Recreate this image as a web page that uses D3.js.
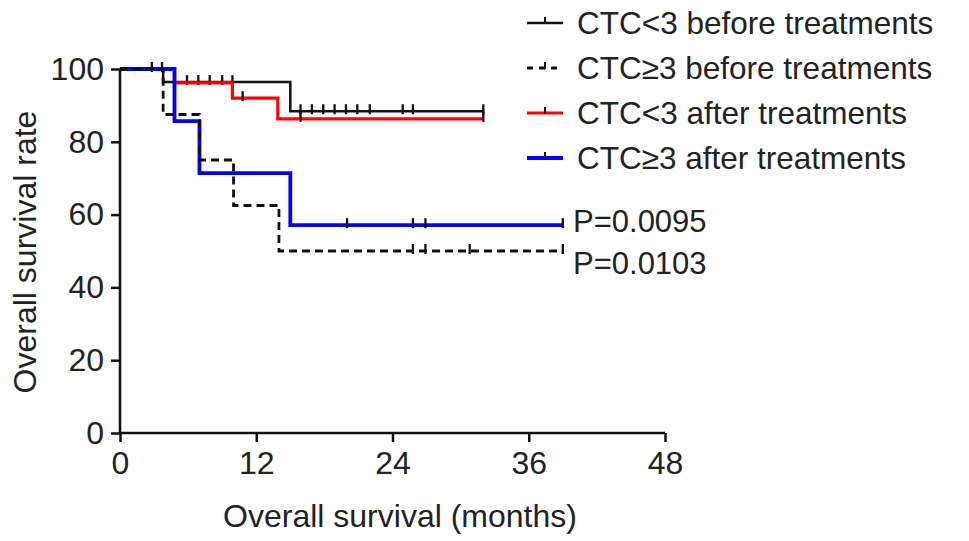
<!DOCTYPE html>
<html>
<head>
<meta charset="utf-8">
<script src="https://cdn.jsdelivr.net/npm/d3@7"></script>
<style>
  body { margin: 0; background: #fff; }
  svg text { font-family: "Liberation Sans", Arial, sans-serif; fill: #222; }
</style>
</head>
<body>
<svg width="969" height="541"></svg>
<script>
// step curves: [time, survival] points, last one is end of follow-up
const ctcLowBefore = [[0, 100], [3.8, 96.4], [15, 88.4], [32, 88.4]];
const ctcHighBefore = [[0, 100], [3.8, 87.5], [7, 75], [10, 62.5], [14, 50], [39, 50]];
const ctcLowAfter = [[0, 100], [4.8, 96.2], [9.9, 92], [13.9, 86.3], [32, 86.3]];
const ctcHighAfter = [[0, 100], [4.8, 85.7], [7, 71.4], [15, 57.1], [39, 57.1]];

// censor marks (months)
const censLowBefore = [2.8, 3.7, 5.9, 6.9, 7.9, 9.0, 9.9, 15.9, 16.9, 17.9, 18.9, 19.9, 20.9, 22.0, 24.9, 25.8, 32];
const censHighBefore = [25.8, 26.9, 30.8, 39];
const censLowAfter = [10.8, 15.9, 32];
const censHighAfter = [20, 25.8, 26.9, 39];

const xTicks = [0, 12, 24, 36, 48];
const yTicks = [0, 20, 40, 60, 80, 100];
const pValues = ["P=0.0095", "P=0.0103"];

const series = [
  { name: "CTC<3 before treatments", pts: ctcLowBefore, cens: censLowBefore, color: "#111", width: 2.5, dash: null },
  { name: "CTC\u22653 before treatments", pts: ctcHighBefore, cens: censHighBefore, color: "#111", width: 2.8, dash: "8,5" },
  { name: "CTC<3 after treatments", pts: ctcLowAfter, cens: censLowAfter, color: "#f00", width: 3.2, dash: null },
  { name: "CTC\u22653 after treatments", pts: ctcHighAfter, cens: censHighAfter, color: "#00f", width: 3.8, dash: null }
];

const svg = d3.select("svg");
const x = d3.scaleLinear().domain([0, 48]).range([120, 665]);
const y = d3.scaleLinear().domain([0, 100]).range([433, 69]);

// survival value at time t for a step curve
function survAt(pts, t) {
  let v = pts[0][1];
  pts.forEach(p => { if (p[0] <= t) v = p[1]; });
  return v;
}

const line = d3.line().x(d => x(d[0])).y(d => y(d[1])).curve(d3.curveStepAfter);

// draw order: black solid, red, blue, dashed on top
const order = [0, 2, 3, 1];
order.forEach(i => {
  const s = series[i];
  const g = svg.append("g");
  g.append("path")
    .attr("d", line(s.pts))
    .attr("fill", "none")
    .attr("stroke", s.color)
    .attr("stroke-width", s.width)
    .attr("stroke-dasharray", s.dash);
  g.selectAll("line.cens")
    .data(s.cens)
    .join("line")
    .attr("x1", d => x(d)).attr("x2", d => x(d))
    .attr("y1", d => y(survAt(s.pts, d)) - 7)
    .attr("y2", d => y(survAt(s.pts, d)) + 3)
    .attr("stroke", "#111")
    .attr("stroke-width", 2.3);
});

// axes
const xAxis = svg.append("g")
  .attr("transform", "translate(0,433)")
  .call(d3.axisBottom(x).tickValues(xTicks).tickSize(9).tickPadding(9));
const yAxis = svg.append("g")
  .attr("transform", "translate(120,0)")
  .call(d3.axisLeft(y).tickValues(yTicks).tickSize(9).tickPadding(7));
[xAxis, yAxis].forEach(a => {
  a.select(".domain").attr("stroke", "#111").attr("stroke-width", 2.5);
  a.selectAll(".tick line").attr("stroke", "#111").attr("stroke-width", 2.5);
  a.selectAll(".tick text").style("font-size", "32px").attr("fill", "#222");
});
xAxis.select(".domain").attr("d", "M120,0H665");
yAxis.select(".domain").attr("d", "M0,433V69");

svg.append("text")
  .attr("x", 400).attr("y", 527)
  .attr("text-anchor", "middle")
  .style("font-size", "32px")
  .text("Overall survival (months)");

svg.append("text")
  .attr("transform", "translate(36,252) rotate(-90)")
  .attr("text-anchor", "middle")
  .style("font-size", "32px")
  .text("Overall survival rate");

// p values
svg.selectAll("text.pval")
  .data(pValues)
  .join("text")
  .attr("class", "pval")
  .attr("x", 573)
  .attr("y", (d, i) => 232 + i * 42)
  .style("font-size", "31px")
  .text(d => d);

// legend
const leg = svg.append("g").selectAll("g")
  .data(series)
  .join("g")
  .attr("transform", (d, i) => `translate(527,${23 + i * 45})`);
leg.append("line")
  .attr("x1", 0).attr("x2", 36).attr("y1", 0).attr("y2", 0)
  .attr("stroke", d => d.color)
  .attr("stroke-width", d => d.width)
  .attr("stroke-dasharray", d => d.dash ? "6,6" : null);
leg.append("line")
  .attr("x1", 18).attr("x2", 18).attr("y1", -6).attr("y2", 1)
  .attr("stroke", "#111").attr("stroke-width", 2);
leg.append("text")
  .attr("x", 50).attr("y", 11)
  .style("font-size", "31.5px")
  .text(d => d.name);
</script>
</body>
</html>
